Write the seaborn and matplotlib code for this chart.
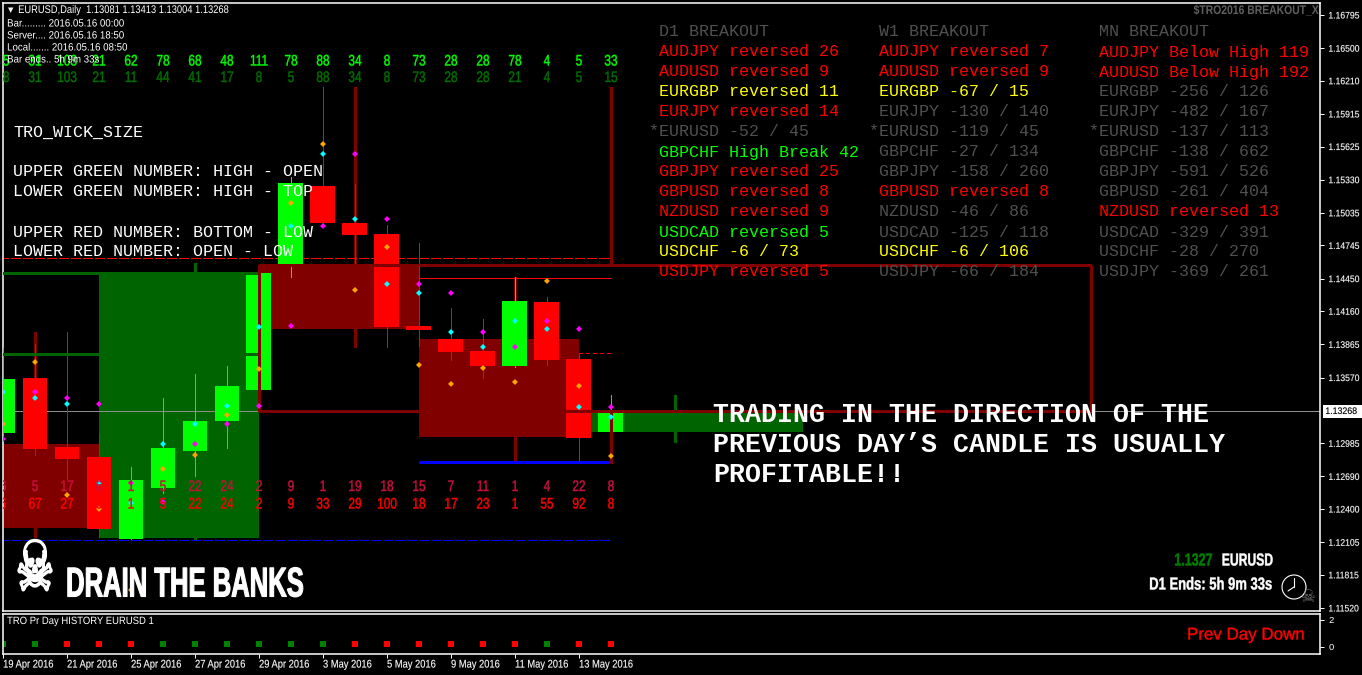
import numpy as np
import pandas as pd
import matplotlib
matplotlib.use("Agg")
import matplotlib.pyplot as plt
from matplotlib.lines import Line2D
from matplotlib.patches import Ellipse
from matplotlib.transforms import Affine2D
import matplotlib.patheffects as pe
import seaborn as sns

W, H = 1362, 675

# ---- daily bars -----
bar_open  = [1.13077,1.13566,1.12952,1.12863,1.12133,1.12587,1.12917,1.13183,1.13459,1.14580,1.15274,1.14945,1.14847,1.14029,1.13913,1.13806,1.13673,1.14242,1.13735,1.13081]
bar_high  = [1.13833,1.13868,1.13975,1.13077,1.12774,1.13388,1.13602,1.13673,1.14500,1.15354,1.16155,1.15292,1.14927,1.14767,1.14189,1.14091,1.14464,1.14286,1.13788,1.13413]
bar_low   = [1.13023,1.12881,1.12668,1.12151,1.12133,1.12543,1.12694,1.12943,1.13459,1.14464,1.14909,1.14580,1.13842,1.13851,1.13726,1.13566,1.13664,1.13682,1.12819,1.13004]
bar_close = [1.13557,1.12934,1.12845,1.12223,1.12659,1.12943,1.13183,1.13495,1.14500,1.15301,1.14945,1.14838,1.14020,1.13993,1.13797,1.13673,1.14251,1.13726,1.13032,1.13268]

# ---- weekly blocks -----
wk_start = [-2, 3, 8, 13, 18]
wk_end   = [3, 8, 13, 18, 25]
wk_mid   = [1, 6, 11, 16, 21]
wk_top   = [1.12979,1.14509,1.14580,1.13913,1.13268]
wk_bot   = [1.12232,1.12142,1.14002,1.13041,1.13081]
wk_high  = [1.13975,1.14589,1.16155,1.14464,1.13415]
wk_low   = [1.12151,1.12125,1.13842,1.12810,1.12997]
wk_up    = [False,True,False,False,True]

# ---- monthly box -----
mo_start, mo_end, mo_mid = 8, 34, 19
mo_top, mo_bot, mo_high, mo_low = 1.14571, 1.13268, 1.16155, 1.12810

# ---- pivots per bar -----
pivot_orange  = [1.13157,1.13708,1.12525,1.12401,1.11680,1.12757,1.12881,1.13237,1.13646,1.15123,1.15647,1.14349,1.14731,1.13682,1.13513,1.13655,1.13530,1.14429,1.13495,1.12872]
pivot_cyan    = [1.13442,1.13388,1.13335,1.12632,1.12454,1.12979,1.13157,1.13317,1.14020,1.14918,1.15559,1.14980,1.14402,1.14322,1.13975,1.13842,1.14073,1.14002,1.13308,1.13219]
pivot_magenta = [1.13023,1.13442,1.13388,1.13335,1.12632,1.12463,1.12979,1.13157,1.13317,1.14029,1.14918,1.15559,1.14980,1.14402,1.14322,1.13975,1.13842,1.14073,1.14002,1.13308]

# ---- numbers ----
upper_green = [5,31,103,21,62,78,68,48,111,78,88,34,8,73,28,28,78,4,5,33]
lower_green = [8,31,103,21,11,44,41,17,8,5,88,34,8,73,28,28,21,4,5,15]
upper_red   = [6,5,17,6,1,5,22,24,2,9,1,19,18,15,7,11,1,4,22,8]
lower_red   = [6,67,27,6,1,5,22,24,2,9,33,29,100,18,17,23,1,55,92,8]

# ---- levels ----
level_red_dash, level_red_solid, level_red_short = 1.14633, 1.14455, 1.13788
level_blue_solid, level_blue_dash = 1.12815, 1.12129
level_green_a, level_green_b = 1.14500, 1.13779
last_price = 1.13268

price_ticks = [1.16795,1.16500,1.16210,1.15915,1.15625,1.15330,1.15035,1.14745,1.14450,1.14160,1.13865,1.13570,1.12985,1.12690,1.12400,1.12105,1.11815,1.11520]
date_ticks = [0,2,4,6,8,10,12,14,16,18]
date_labels = ["19 Apr 2016","21 Apr 2016","25 Apr 2016","27 Apr 2016","29 Apr 2016","3 May 2016","5 May 2016","9 May 2016","11 May 2016","13 May 2016"]

history_dir = ["up","up","down","down","down","up","up","up","up","up","up","down","down","down","down","down","down","up","down","down"]
history_val = [0.22]*20

# ---- breakout tables ----
GR, RD, YL, LM = "#505050", "#ff0000", "#ffff00", "#00ff00"
d1_rows = ["AUDJPY reversed 26","AUDUSD reversed 9","EURGBP reversed 11","EURJPY reversed 14","*EURUSD -52 / 45","GBPCHF High Break 42","GBPJPY reversed 25","GBPUSD reversed 8","NZDUSD reversed 9","USDCAD reversed 5","USDCHF -6 / 73","USDJPY reversed 5"]
d1_cols = [RD,RD,YL,RD,GR,LM,RD,RD,RD,LM,YL,RD]
w1_rows = ["AUDJPY reversed 7","AUDUSD reversed 9","EURGBP -67 / 15","EURJPY -130 / 140","*EURUSD -119 / 45","GBPCHF -27 / 134","GBPJPY -158 / 260","GBPUSD reversed 8","NZDUSD -46 / 86","USDCAD -125 / 118","USDCHF -6 / 106","USDJPY -66 / 184"]
w1_cols = [RD,RD,YL,GR,GR,GR,GR,RD,GR,GR,YL,GR]
mn_rows = ["AUDJPY Below High 119","AUDUSD Below High 192","EURGBP -256 / 126","EURJPY -482 / 167","*EURUSD -137 / 113","GBPCHF -138 / 662","GBPJPY -591 / 526","GBPUSD -261 / 404","NZDUSD reversed 13","USDCAD -329 / 391","USDCHF -28 / 270","USDJPY -369 / 261"]
mn_cols = [RD,RD,GR,GR,GR,GR,GR,GR,RD,GR,GR,GR]

sns.set_theme(style="dark", rc={"axes.facecolor": "black", "figure.facecolor": "black"})
SANS = ["Liberation Sans", "DejaVu Sans"]
MONO = ["Liberation Mono", "DejaVu Sans Mono"]
plt.rcParams["font.family"] = SANS


class Condense(pe.AbstractPathEffect):
    """Draws real text narrower (no condensed face is installed), optionally heavier."""
    def __init__(self, sx=1.0, pivot="left", stroke=0.0):
        super().__init__()
        self.sx, self.pivot, self.stroke = sx, pivot, stroke

    def draw_path(self, renderer, gc, tpath, affine, rgbFace=None):
        ext = tpath.get_extents()
        p = {"left": ext.x0, "center": (ext.x0 + ext.x1) / 2, "right": ext.x1}[self.pivot]
        aff = Affine2D().translate(-p, 0).scale(self.sx, 1).translate(p, 0) + affine
        gc0 = renderer.new_gc()
        gc0.copy_properties(gc)
        if self.stroke > 0 and rgbFace is not None:
            gc0.set_foreground(rgbFace)
            gc0.set_linewidth(self.stroke)
        renderer.draw_path(gc0, tpath, aff, rgbFace)
        gc0.restore()


fig = plt.figure(figsize=(W/100, H/100), dpi=100, facecolor="black")
L, R, T, B = 2.5, 1320, 2.5, 611
ax = fig.add_axes([L/W, 1-B/H, (R-L)/W, (B-T)/H], facecolor="black")
ax.set_xlim(-0.0156, 41.16)
ax.set_ylim(1.11493, 1.16906)
sub = fig.add_axes([L/W, 1-654/H, (R-L)/W, (654-613.5)/H], facecolor="black")

idx = np.arange(len(bar_open))
DR, DG = "#800000", "#006400"
THIN, THICK = 0.5, 2.0

# weekly blocks
for s, e, m, t, b, hi, lo, up in zip(wk_start, wk_end, wk_mid, wk_top, wk_bot, wk_high, wk_low, wk_up):
    c = DG if up else DR
    ax.bar(s, t-b, bottom=b, width=e-s, align="edge", color=c, linewidth=0, zorder=1, antialiased=False)
    ax.vlines(m, lo, hi, color=c, linewidth=THICK, zorder=1, antialiased=False)

# current price line
ax.axhline(last_price, color="#8c8c8c", linewidth=THIN, zorder=2, antialiased=False)

# daily candles
for i, o, h, l, c in zip(idx, bar_open, bar_high, bar_low, bar_close):
    col = "#00ff00" if c > o else "#ff0000"
    ax.vlines(i, l, h, color=col, linewidth=THIN, zorder=3, antialiased=False)
    ax.bar(i, abs(c-o), bottom=min(o, c), width=0.78, color=col, linewidth=0, zorder=3, antialiased=False)

# levels
ax.hlines(level_green_a, -1, 8, color=DG, linewidth=THICK, zorder=4, antialiased=False)
ax.hlines(level_green_b, -1, 8, color=DG, linewidth=THICK, zorder=4, antialiased=False)
ax.hlines(level_red_dash, -1, 19, color="#ff0000", linewidth=THIN, linestyles=(0, (14, 4)), zorder=2, antialiased=False)
ax.hlines(level_red_solid, 13, 19, color="#ff0000", linewidth=THIN, zorder=2, antialiased=False)
ax.hlines(level_red_short, 18, 19, color="#ff0000", linewidth=THIN, linestyles=(0, (5, 5)), zorder=2, antialiased=False)
ax.hlines(level_blue_solid, 13, 19, color="#0000ff", linewidth=1.0, zorder=4, antialiased=False)
ax.hlines(level_blue_dash, -1, 19, color="#0000ff", linewidth=THIN, linestyles=(0, (14, 4)), zorder=2, antialiased=False)

# monthly box
ax.hlines([mo_top, mo_bot], mo_start, mo_end, color=DR, linewidth=THICK, zorder=4, antialiased=False)
ax.vlines([mo_start, mo_end], mo_bot, mo_top, color=DR, linewidth=THICK, zorder=4, antialiased=False)
ax.vlines(mo_mid, mo_top, mo_high, color=DR, linewidth=THICK, zorder=4, antialiased=False)
ax.vlines(mo_mid, mo_low, mo_bot, color=DR, linewidth=THICK, zorder=4, antialiased=False)

# pivots
piv = pd.DataFrame({"bar": np.tile(idx, 3),
                    "price": pivot_orange + pivot_cyan + pivot_magenta,
                    "kind": ["o"]*20 + ["c"]*20 + ["m"]*20})
sns.scatterplot(data=piv, x="bar", y="price", hue="kind", ax=ax, marker="D", s=9, linewidth=0, legend=False,
                palette={"o": "#ffa500", "c": "#00ffff", "m": "#ff00ff"}, zorder=5, clip_on=True)
ax.set_xlim(-0.0156, 41.16)
ax.set_ylim(1.11493, 1.16906)

# numbers above/below
num_tr = ax.get_xaxis_transform()
def numrow(vals, py, color, shift=0.0):
    yf = 1-(py-T)/(B-T)
    for i, v in zip(idx, vals):
        x = i + (shift if i == 0 else 0)
        ax.text(x, yf, str(v), transform=num_tr, color=color, ha="center", va="center", fontsize=11,
                clip_on=True, zorder=6, path_effects=[Condense(0.78, "center", 0.3)])
numrow(upper_green, 61.5, "#00ff00", 0.1)
numrow(lower_green, 78, "#006e00", 0.1)
numrow(upper_red, 487, "#c8103c")
numrow(lower_red, 504.5, "#ff0000")

def txt(px, py, s, sx=None, stroke=0.0, **kw):
    kw.setdefault("va", "center")
    kw.setdefault("color", "white")
    if sx is not None:
        piv_name = {"left": "left", "right": "right", "center": "center"}[kw.get("ha", "left")]
        kw["path_effects"] = [Condense(sx, piv_name, stroke)]
    return fig.text(px/W, 1-py/H, s, zorder=10, **kw)

# header
txt(10.5, 10, "\u25BC", fontsize=5, family=["DejaVu Sans"], ha="center")
txt(18, 10, "EURUSD,Daily  1.13081 1.13413 1.13004 1.13268", sx=0.84, fontsize=8, family=SANS)
txt(7, 23.5, "Bar......... 2016.05.16 00:00", sx=0.92, fontsize=7.6, family=SANS)
txt(7, 35.5, "Server.... 2016.05.16 18:50", sx=0.92, fontsize=7.6, family=SANS)
txt(7, 47.5, "Local....... 2016.05.16 08:50", sx=0.92, fontsize=7.6, family=SANS)
txt(7, 59.5, "Bar ends.. 5h 9m 33s", sx=0.92, fontsize=7.6, family=SANS)

def mono(px, py, s, color="white"):
    txt(px, py + 4.5, s, fontsize=12, family=MONO, color=color, va="baseline")

# left explanation
for py, s in zip([132, 172, 192, 232, 252],
                 ["TRO_WICK_SIZE", "UPPER GREEN NUMBER: HIGH - OPEN", "LOWER GREEN NUMBER: HIGH - TOP",
                  "UPPER RED NUMBER: BOTTOM - LOW", "LOWER RED NUMBER: OPEN - LOW"]):
    mono(13, py, s)

# breakout tables
for px, head, rows, cols in [(659, "D1 BREAKOUT", d1_rows, d1_cols),
                             (879, "W1 BREAKOUT", w1_rows, w1_cols),
                             (1099, "MN BREAKOUT", mn_rows, mn_cols)]:
    mono(px, 32, head, GR)
    for k, (s, c) in enumerate(zip(rows, cols)):
        mono(px - 10 if s.startswith("*") else px, 52 + 20*k, s, c)

txt(1319, 11, "$TRO2016 BREAKOUT_X", sx=0.83, fontsize=9, family=SANS, weight="bold", color="#606060", ha="right")

# big message
for py, s in zip([414, 444, 474],
                 ["TRADING IN THE DIRECTION OF THE", "PREVIOUS DAY\u2019S CANDLE IS USUALLY", "PROFITABLE!!"]):
    txt(713, py + 7.5, s, fontsize=19.2, family=MONO, weight="bold", va="baseline")

# branding
txt(35, 571, "\u2620", sx=0.62, stroke=1.4, fontsize=50, family=["DejaVu Sans"], ha="center")
txt(65, 585.5, "DRAIN THE BANKS", sx=0.615, stroke=0.8, fontsize=30, family=SANS, weight="bold")
txt(1213, 561, "1.1327", sx=0.72, stroke=0.3, fontsize=12.5, family=SANS, weight="bold", color="#008000", ha="right")
txt(1273, 561, "EURUSD", sx=0.70, stroke=0.3, fontsize=12.5, family=SANS, weight="bold", ha="right")
txt(1273, 585, "D1 Ends: 5h 9m 33s", sx=0.75, stroke=0.3, fontsize=12.5, family=SANS, weight="bold", ha="right")
txt(1308, 597, "\u2620", fontsize=12, family=["DejaVu Sans"], ha="center", color="#707070")

# clock
cx, cy, r = 1294, 587, 12
fig.add_artist(Ellipse((cx/W, 1-cy/H), 2*r/W, 2*r/H, transform=fig.transFigure, fill=False, edgecolor="white", linewidth=0.8))
fig.add_artist(Line2D([cx/W, cx/W], [1-cy/H, 1-(cy-9)/H], transform=fig.transFigure, color="white", linewidth=0.8))
fig.add_artist(Line2D([cx/W, (cx-6)/W], [1-cy/H, 1-(cy+4)/H], transform=fig.transFigure, color="white", linewidth=0.8))

# main axis decoration
for a in (ax, sub):
    for sp in a.spines.values():
        sp.set_color("white")
        sp.set_linewidth(1.1)
ax.yaxis.tick_right()
ax.set_yticks(price_ticks)
ax.set_yticklabels([f"{p:.5f}" for p in price_ticks], color="white", fontsize=6.8)
for lab in ax.get_yticklabels():
    lab.set_path_effects([Condense(0.91, "left", 0.1)])
ax.tick_params(axis="y", length=3, width=0.7, color="white", pad=3, right=True, left=False)
ax.set_xticks([])
ax.set_xlabel("")
ax.set_ylabel("")
ax.grid(False)
ax.text(1.004, last_price, f"{last_price:.5f}", transform=ax.get_yaxis_transform(), va="center", ha="left",
        fontsize=6.8, color="black", clip_on=False, zorder=9, path_effects=[Condense(0.93, "left", 0.1)],
        bbox=dict(facecolor="white", edgecolor="none", pad=1.4))

# history panel
hist = pd.DataFrame({"bar": idx, "v": history_val, "dir": history_dir})
sns.scatterplot(data=hist, x="bar", y="v", hue="dir", palette={"up": "#008000", "down": "#ff0000"},
                marker="s", s=22, linewidth=0, legend=False, ax=sub, clip_on=True)
sub.set_xlim(-0.0156, 41.16)
sub.set_ylim(-0.52, 2.48)
sub.yaxis.tick_right()
sub.set_yticks([0, 2])
sub.set_yticklabels(["0", "2"], color="white", fontsize=6.8)
sub.set_xticks(date_ticks)
sub.set_xticklabels(date_labels, color="white", fontsize=8, ha="left")
for lab in sub.get_xticklabels():
    lab.set_path_effects([Condense(0.84, "left", 0.1)])
sub.tick_params(axis="y", length=3, width=0.7, color="white", pad=3, right=True, left=False)
sub.tick_params(axis="x", length=3, width=0.7, color="white", pad=1, bottom=True)
sub.set_xlabel("")
sub.set_ylabel("")
sub.grid(False)
txt(7, 621, "TRO Pr Day HISTORY EURUSD 1", sx=0.9, fontsize=7.6, family=SANS)
txt(1187, 635, "Prev Day Down", sx=1.0, stroke=0.3, fontsize=12.2, family=SANS, color="#ff0000")

fig.savefig("out.png", dpi=100, facecolor="black")
